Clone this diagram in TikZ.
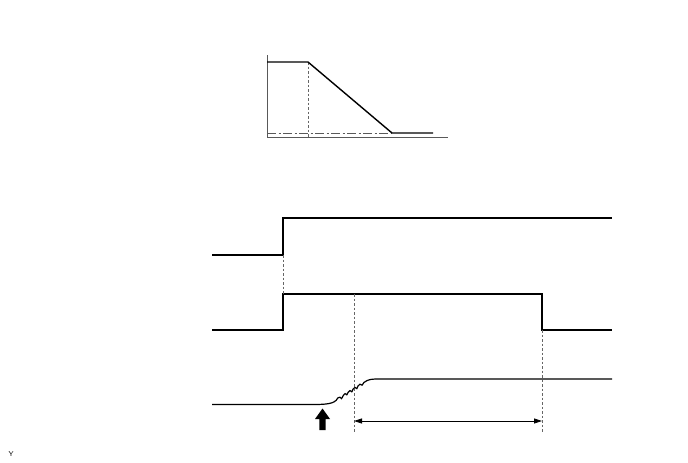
\documentclass[tikz,border=0pt]{standalone}
\usetikzlibrary{arrows.meta}
\begin{document}
\begin{tikzpicture}[x=1pt,y=-1pt,
  sig/.style={line width=1.4pt,black},
  guide/.style={line width=0.7pt,gray!80!black,dash pattern=on 2.5pt off 2pt},
  axis/.style={line width=0.8pt,gray!70!black},
  dashdot/.style={line width=1pt,gray!70!black,dash pattern=on 9pt off 2.5pt on 2pt off 2.5pt},
  dim/.style={line width=0.8pt,black,{Triangle[length=8pt,width=5pt]}-{Triangle[length=8pt,width=5pt]}},
  lab/.style={font=\sffamily\fontsize{7}{8}\selectfont,inner sep=0pt}]
\useasboundingbox (0,0) rectangle (688,463);
% top graph
\coordinate (ax0) at (267,137);
\coordinate (axt) at (267,55);
\coordinate (axr) at (448,137);
\draw[axis] (axt) -- (ax0) -- (axr);
\draw[dashdot] (267,133) -- (392,133);
\coordinate (k1) at (308,62);
\coordinate (k2) at (392,133);
\draw[guide] (k1) -- (308,137);
\draw[sig] (267,62) -- (k1) -- (k2) -- (433,133);
% signal 1
\coordinate (s1a) at (283,255);
\coordinate (s1b) at (283,218);
\draw[sig] (212,255) -- (s1a) -- (s1b) -- (612,218);
% signal 2
\coordinate (s2a) at (283,330);
\coordinate (s2b) at (283,294);
\coordinate (s2c) at (542,294);
\coordinate (s2d) at (542,330);
\draw[sig] (212,330) -- (s2a) -- (s2b) -- (s2c) -- (s2d) -- (612,330);
% guides
\draw[guide] (s1a) -- (s2b);
\draw[guide] (354,294) -- (354,433);
\draw[guide] (s2d) -- (542,433);
% signal 3
\draw[line width=1.2pt] (212,404.5) -- (318,404.5)
  plot[smooth,tension=0.5] coordinates {(318,404.5) (326,404) (332,402.8) (336,400.5) (338,397.8)
  (340,397.2) (341.5,398.6) (343,396) (345,393.6) (346.8,394.8) (348,392.6) (350,390.6) (351.8,391.8)
  (353,389.2) (355,387.4) (356.8,388.6) (358,386) (360,384.2) (362,385.2) (364,382.4) (367,380.6) (371,379.4) (376,379)}
  -- (612,379);
% block arrow
\coordinate (ba) at (322.5,408.5);
\fill (319.3,430) -- (319.3,419) -- (315,419) -- (ba) -- (330,419) -- (325.7,419) -- (325.7,430) -- cycle;
% dimension
\coordinate (d1) at (354,421);
\coordinate (d2) at (542,421);
\draw[dim] (d1) -- (d2);
\node[lab] (y) at (11,454) {Y};
\end{tikzpicture}
\end{document}
